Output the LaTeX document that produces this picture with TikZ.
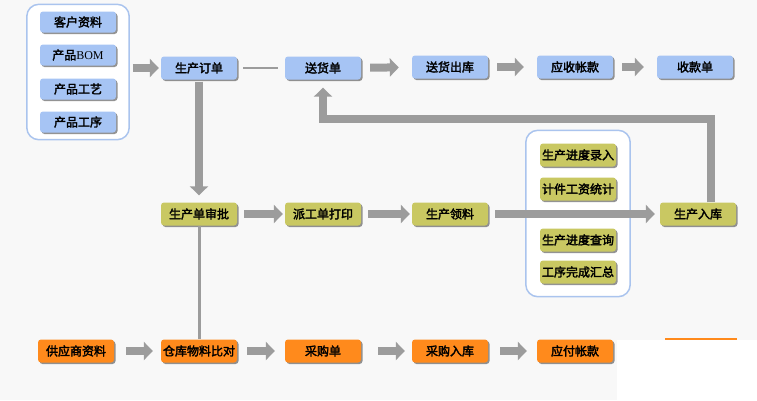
\documentclass[tikz,border=0pt]{standalone}
\usepackage{fontspec}
\setmainfont{Liberation Serif}
\newfontfamily\cjk[FakeBold=2.5]{Noto Sans CJK SC}
\usetikzlibrary{arrows.meta,shadows,fit,backgrounds}
\pgfdeclarelayer{back}
\pgfsetlayers{back,background,main}
\definecolor{boxblue}{HTML}{A6C4F4}
\definecolor{boxolive}{HTML}{C9C862}
\definecolor{boxorange}{HTML}{FF8A1C}
\definecolor{flowgray}{HTML}{9C9C9C}
\definecolor{groupline}{HTML}{AAC4EE}
\definecolor{paper}{HTML}{F8F8F8}
\tikzset{
  item/.style={rounded corners=3pt, minimum width=76pt, minimum height=23pt, inner sep=0pt,
    font=\cjk\fontsize{12}{14}\selectfont,
    drop shadow={shadow xshift=1.5pt, shadow yshift=-1.5pt, fill=black!70, opacity=.6}},
  blueitem/.style={item, fill=boxblue},
  oliveitem/.style={item, fill=boxolive},
  orangeitem/.style={item, fill=boxorange},
  flow/.style={draw=flowgray, line width=8pt, -{Triangle[width=18pt,length=9pt]}, shorten <=9pt, shorten >=13pt},
  link/.style={draw=flowgray, line width=2.5pt},
  group/.style={draw=groupline, line width=1.5pt, rounded corners=12pt, fill=white}
}
\begin{document}
\begin{tikzpicture}[x=1pt, y=-1pt]
    \useasboundingbox (0,0) rectangle (757,400);
    \begin{pgfonlayer}{back}
        \fill[paper] (0,0) rectangle (757,400);
        \fill[white] (617,340) rectangle (757,400);
    \end{pgfonlayer}
    \draw[boxorange, line width=1.2pt] (665,339) -- (737,339);

    \node[blueitem, minimum height=21pt] (kehu) at (78,22) {客户资料};
    \node[blueitem, minimum height=21pt] (bom) at (78,55) {产品{\rmfamily BOM}};
    \node[blueitem, minimum height=21pt] (gongyi) at (78,89) {产品工艺};
    \node[blueitem, minimum height=21pt] (gongxu) at (78,122) {产品工序};

    \node[blueitem] (dingdan) at (199,68) {生产订单};
    \node[blueitem] (songhuo) at (323,68) {送货单};
    \node[blueitem] (chuku) at (450,67) {送货出库};
    \node[blueitem] (yingshou) at (575,67) {应收帐款};
    \node[blueitem] (shoukuan) at (695,67) {收款单};

    \node[oliveitem] (shenpi) at (199,214) {生产单审批};
    \node[oliveitem] (paigong) at (323,214) {派工单打印};
    \node[oliveitem] (lingliao) at (450,214) {生产领料};
    \node[oliveitem] (ruku) at (698,214) {生产入库};
    \node[oliveitem] (luru) at (578,155) {生产进度录入};
    \node[oliveitem] (jijian) at (578,189) {计件工资统计};
    \node[oliveitem] (chaxun) at (578,240) {生产进度查询};
    \node[oliveitem] (huizong) at (578,272) {工序完成汇总};

    \node[orangeitem] (gongying) at (76,351) {供应商资料};
    \node[orangeitem] (bidui) at (199,351) {仓库物料比对};
    \node[orangeitem] (caigou) at (323,351) {采购单};
    \node[orangeitem] (cgruku) at (450,351) {采购入库};
    \node[orangeitem] (yingfu) at (575,351) {应付帐款};

    \begin{scope}[on background layer]
        \node[group, fit=(kehu)(gongxu), inner xsep=13pt, inner ysep=7pt] (basic) {};
        \node[group, fit=(luru)(huizong), inner xsep=14pt, inner ysep=13pt] (report) {};
    \end{scope}

    \draw[flow, shorten <=3pt, shorten >=2pt] (basic.east |- dingdan) -- (dingdan);
    \draw[link, shorten <=6pt, shorten >=7pt] (dingdan) -- (songhuo);
    \draw[flow] (songhuo) -- (chuku);
    \draw[flow] (chuku) -- (yingshou);
    \draw[flow] (yingshou) -- (shoukuan);
    \draw[flow, shorten <=2pt, shorten >=7pt] (dingdan) -- (shenpi);
    \draw[flow, shorten <=7pt, shorten >=2pt] (shenpi) -- (paigong);
    \draw[flow, shorten <=7pt, shorten >=2pt] (paigong) -- (lingliao);
    \draw[flow, shorten <=7pt, shorten >=5pt] (lingliao) -- (ruku);
    \draw[flow, shorten <=0pt, shorten >=8pt] ([xshift=13pt]ruku.north) -- ++(0,-83) -| (songhuo.south);
    \draw[link, line width=3pt] (shenpi) -- (bidui);
    \draw[flow, shorten <=12pt, shorten >=8pt] (gongying) -- (bidui);
    \draw[flow, shorten <=10pt, shorten >=10pt] (bidui) -- (caigou);
    \draw[flow, shorten <=17pt, shorten >=7pt] (caigou) -- (cgruku);
    \draw[flow, shorten <=12pt, shorten >=10pt] (cgruku) -- (yingfu);
\end{tikzpicture}
\end{document}
